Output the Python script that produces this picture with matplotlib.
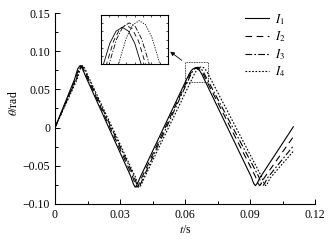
import numpy as np
import matplotlib
matplotlib.use("Agg")
import matplotlib.pyplot as plt
from matplotlib.patches import Rectangle
from matplotlib.ticker import MultipleLocator, FixedLocator, FixedFormatter

plt.rcParams['font.family'] = ['Liberation Serif', 'DejaVu Serif']
plt.rcParams['mathtext.fontset'] = 'stix'
plt.rcParams['axes.unicode_minus'] = True

# curve points (t in s, theta in rad)
t1 = [0, 0.009, 0.0105, 0.0115, 0.0125, 0.014, 0.035, 0.0362, 0.037, 0.0378, 0.039,
      0.0618, 0.0628, 0.0638, 0.0648, 0.0658, 0.0668, 0.0678,
      0.0905, 0.0917, 0.0925, 0.0933, 0.0945, 0.110]
th1 = [0, 0.063, 0.077, 0.081, 0.078, 0.068, -0.064, -0.074, -0.078, -0.075, -0.067,
       0.0696, 0.0743, 0.0771, 0.078, 0.0771, 0.0743, 0.0696,
       -0.064, -0.073, -0.076, -0.073, -0.066, 0.001]

t2 = [0, 0.0094, 0.0109, 0.0119, 0.0129, 0.0144, 0.0358, 0.037, 0.0378, 0.0386, 0.0398,
      0.0624, 0.0634, 0.0644, 0.0654, 0.0664, 0.0674, 0.0684,
      0.0925, 0.0937, 0.0945, 0.0953, 0.0965, 0.110]
th2 = [0, 0.063, 0.077, 0.081, 0.078, 0.068, -0.064, -0.074, -0.078, -0.075, -0.067,
       0.0701, 0.0748, 0.0776, 0.0785, 0.0776, 0.0748, 0.0701,
       -0.064, -0.073, -0.076, -0.073, -0.066, -0.012]

t3 = [0, 0.0098, 0.0113, 0.0123, 0.0133, 0.0148, 0.0365, 0.0377, 0.0385, 0.0393, 0.0405,
      0.0629, 0.0639, 0.0649, 0.0659, 0.0669, 0.0679, 0.0689,
      0.094, 0.0952, 0.096, 0.0968, 0.098, 0.110]
th3 = [0, 0.063, 0.077, 0.081, 0.078, 0.068, -0.064, -0.074, -0.078, -0.075, -0.067,
       0.0706, 0.0753, 0.0781, 0.079, 0.0781, 0.0753, 0.0706,
       -0.064, -0.073, -0.076, -0.073, -0.066, -0.024]

t4 = [0, 0.0102, 0.0117, 0.0127, 0.0137, 0.0152, 0.037, 0.0382, 0.039, 0.0398, 0.041,
      0.0645, 0.0655, 0.0665, 0.0675, 0.0685, 0.0695, 0.0705,
      0.0953, 0.0965, 0.0973, 0.0981, 0.0993, 0.110]
th4 = [0, 0.063, 0.077, 0.081, 0.078, 0.068, -0.064, -0.074, -0.078, -0.075, -0.067,
       0.0711, 0.0758, 0.0786, 0.0795, 0.0786, 0.0758, 0.0711,
       -0.064, -0.073, -0.076, -0.073, -0.066, -0.031]

labels = ['$I_1$', '$I_2$', '$I_3$', '$I_4$']
styles = ['-', (0, (6, 4)), (0, (6, 2, 1.5, 2)), (0, (1.5, 1.5))]
series = [(t1, th1), (t2, th2), (t3, th3), (t4, th4)]

xticks = [0, 0.03, 0.06, 0.09, 0.12]
xlabels = ['0', '0.03', '0.06', '0.09', '0.12']
yticks = [-0.10, -0.05, 0, 0.05, 0.10, 0.15]
ylabels = ['\u22120.10', '\u22120.05', '0', '0.05', '0.10', '0.15']

fig = plt.figure(figsize=(3.32, 2.44), dpi=100)
ax = fig.add_axes([55/332, 1-204/244, 260/332, 191/244])

for (t, th), lab, ls in zip(series, labels, styles):
    ax.plot(t, th, color='black', lw=0.8, ls=ls, label=lab)

ax.set_xlim(0, 0.12)
ax.set_ylim(-0.10, 0.15)
ax.xaxis.set_major_locator(FixedLocator(xticks))
ax.xaxis.set_major_formatter(FixedFormatter(xlabels))
ax.yaxis.set_major_locator(FixedLocator(yticks))
ax.yaxis.set_major_formatter(FixedFormatter(ylabels))
ax.xaxis.set_minor_locator(MultipleLocator(0.015))
ax.yaxis.set_minor_locator(MultipleLocator(0.025))
ax.tick_params(which='both', direction='in', labelsize=8.5, width=0.7)
ax.tick_params(which='major', length=3.5)
ax.tick_params(which='minor', length=2)
ax.spines['top'].set_visible(False)
ax.spines['right'].set_visible(False)
ax.spines['left'].set_linewidth(0.8)
ax.spines['bottom'].set_linewidth(0.8)
ax.set_xlabel('$t$/s', fontsize=8.5, labelpad=2)
ax.set_ylabel(r'$\theta$/rad', fontsize=8.5)
ax.yaxis.set_label_coords(-0.135, 0.53)

ax.legend(loc='upper right', bbox_to_anchor=(0.93, 1.065), frameon=False, fontsize=9,
          handlelength=1.9, labelspacing=0.22, handletextpad=0.5)

# dotted box around the second peak
ax.add_patch(Rectangle((0.060, 0.0597), 0.0106, 0.0262, fill=False,
                       ls=(0, (1, 1)), lw=0.6, color='black'))

# zoomed inset
ins = fig.add_axes([101/332, 1-64/244, 67/332, 49/244])
for (t, th), ls in zip(series, styles):
    ins.plot(t, th, color='black', lw=0.6, ls=ls)
ins.set_xlim(0.0614, 0.0721)
ins.set_ylim(0.0696, 0.0808)
ins.set_xticks(np.linspace(0.0614, 0.0721, 9)[1:-1])
ins.set_yticks(np.linspace(0.0696, 0.0808, 7)[1:-1])
ins.tick_params(which='both', direction='in', length=1.5, width=0.5,
                top=True, right=True, labelbottom=False, labelleft=False)
for s in ins.spines.values():
    s.set_linewidth(0.8)

ax.annotate('', xy=(168/332, 1-50/244), xytext=(184/332, 1-62/244),
            xycoords='figure fraction', textcoords='figure fraction',
            arrowprops=dict(arrowstyle='-|>', lw=0.6, color='black', mutation_scale=6))

fig.savefig('out.png', dpi=100)
